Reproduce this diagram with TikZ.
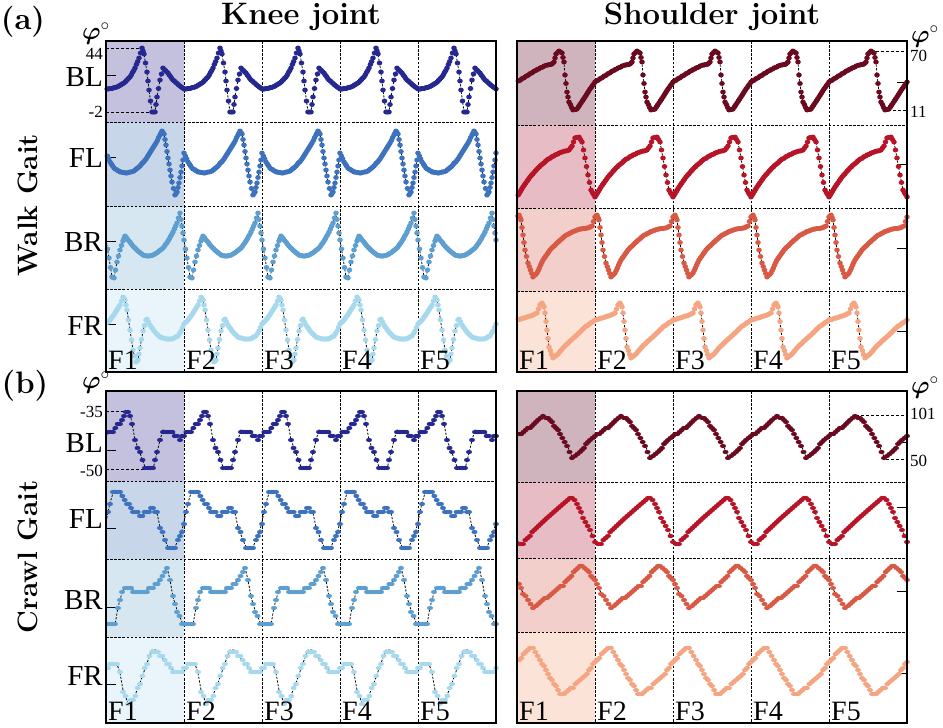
\documentclass[tikz,border=0pt]{standalone}
\usepackage{fontspec}
\usepackage{bm}
\newfontfamily\tms{Liberation Serif}
\definecolor{fLBL}{HTML}{C4C1DF}
\definecolor{fLFL}{HTML}{C7D6E9}
\definecolor{fLBR}{HTML}{D6E7F2}
\definecolor{fLFR}{HTML}{E9F5FB}
\definecolor{fRBL}{HTML}{D0B4BD}
\definecolor{fRFL}{HTML}{E8BCC4}
\definecolor{fRBR}{HTML}{F2CFCA}
\definecolor{fRFR}{HTML}{FCE3D8}
\definecolor{cLBL}{HTML}{25298F}
\definecolor{cLFL}{HTML}{3D72BF}
\definecolor{cLBR}{HTML}{5C9FD0}
\definecolor{cLFR}{HTML}{A6D8EE}
\definecolor{cRBL}{HTML}{6A0A20}
\definecolor{cRFL}{HTML}{B81428}
\definecolor{cRBR}{HTML}{D85A45}
\definecolor{cRFR}{HTML}{F5A582}
\tikzset{
  panelframe/.style={line width=1.4pt},
  gridline/.style={line width=0.7pt, dash pattern=on 2.5pt off 1.6pt},
  refline/.style={line width=0.8pt, dash pattern=on 3pt off 2pt},
  traceline/.style={line width=0.8pt, dash pattern=on 2.2pt off 1.5pt},
  rowlab/.style={font=\tms\fontsize{29}{29}\selectfont, anchor=east, inner sep=0pt},
  ticklab/.style={font=\tms\fontsize{17}{17}\selectfont, inner sep=0pt},
  flab/.style={font=\tms\fontsize{28}{28}\selectfont, anchor=base west, inner sep=0pt},
  boldlab/.style={font=\fontsize{31}{31}\selectfont\bfseries, inner sep=0pt},
  gaitlab/.style={font=\fontsize{28}{28}\selectfont\bfseries, inner sep=0pt, rotate=90},
  philab/.style={font=\fontsize{24}{24}\selectfont, inner sep=0pt}
}
\newcommand\dotrx{2.8pt}
\newcommand\dotry{2.5pt}
% #1 colour, #2 quantum, #3 spacing, #4 x0, #5 y0, #6 list of x/y (first period)
\newcommand\wave[6]{%
  \foreach \k in {0,...,4}{%
    \draw[traceline] ({#4+78*\k},#5) \foreach \px/\py in {#6}{ -- ({\px+78*\k},\py) };
  }
  \foreach \k in {0,...,4}{%
    \foreach \px/\py [remember=\px as \qx (initially #4), remember=\py as \qy (initially #5)] in {#6}{%
      \pgfmathtruncatemacro\nn{max(1,round((\px-\qx)/#3))}%
      \foreach \j in {1,...,\nn}{%
        \pgfmathsetmacro\xx{\qx+(\px-\qx)*\j/\nn+78*\k}%
        \pgfmathsetmacro\yy{round((\qy+(\py-\qy)*\j/\nn)/#2)*#2}%
        \fill[#1] (\xx,\yy) ellipse [x radius=\dotrx, y radius=\dotry];
      }%
    }%
  }%
}
\newcommand\gridpanel[6]{%
  \foreach \c in {1,...,4} \draw[gridline] ({#1+78*\c},#2) -- ({#1+78*\c},#6);
  \foreach \r in {#3,#4,#5} \draw[gridline] (#1,\r) -- ({#1+390},\r);
}
\begin{document}
\begin{tikzpicture}[x=1pt,y=-1pt]
\useasboundingbox (0,0) rectangle (943,728);
\fill[white] (0,0) rectangle (943,728);
% ---------- fills of column F1 ----------
\fill[fLBL] (106,41) rectangle (184,122);
\fill[fLFL] (106,122) rectangle (184,206);
\fill[fLBR] (106,206) rectangle (184,289);
\fill[fLFR] (106,289) rectangle (184,372);
\fill[fRBL] (517,41) rectangle (595,125);
\fill[fRFL] (517,125) rectangle (595,208);
\fill[fRBR] (517,208) rectangle (595,291);
\fill[fRFR] (517,291) rectangle (595,372);
\fill[fLBL] (106,391) rectangle (184,481);
\fill[fLFL] (106,481) rectangle (184,559);
\fill[fLBR] (106,559) rectangle (184,637);
\fill[fLFR] (106,637) rectangle (184,723);
\fill[fRBL] (517,391) rectangle (595,482);
\fill[fRFL] (517,482) rectangle (595,558);
\fill[fRBR] (517,558) rectangle (595,632);
\fill[fRFR] (517,632) rectangle (595,723);
% ---------- grids ----------
\gridpanel{106}{41}{122}{206}{289}{372}
\gridpanel{517}{41}{125}{208}{291}{372}
\gridpanel{106}{391}{481}{559}{637}{723}
\gridpanel{517}{391}{482}{558}{632}{723}
% ---------- reference lines ----------
\draw[refline] (106,48) -- (142,48);
\draw[refline] (106,112) -- (152,112);
\draw[refline] (871,51) -- (907,51);
\draw[refline] (888,110) -- (907,110);
\draw[refline] (106,411) -- (128,411);
\draw[refline] (106,469) -- (150,469);
\draw[refline] (856,415) -- (907,415);
\draw[refline] (886,459) -- (907,459);
% ---------- ticks ----------
\foreach \yy in {75,157,241,324,450,528,607,684} \draw[line width=1pt] (106,\yy) -- (116,\yy);
\foreach \yy in {82,164,248,331,442,507,591,673} \draw[line width=1pt] (897,\yy) -- (907,\yy);
% ---------- knee, walk ----------
\wave{cLBL}{0.5}{1.3}{106}{89}{112/88.5, 118/86.5, 124/83, 130/77, 135/68, 139/58, 142/48, 144/54, 147/72, 149/90, 152/112, 155/112, 157/97, 160/80, 163/68, 168/73, 173/80, 180/86, 184/89}
\wave{cLFL}{0.5}{1.3}{106}{153}{110/162, 114/168, 120/172, 127/173, 134/171, 140/166, 146/159, 151/151, 156/143, 160/135, 162/131, 164/134, 166/145, 168/158, 170/170, 172/182, 175/195, 177/192, 179/183, 181/172, 183/160, 184/153}
\wave{cLBR}{0.5}{1.3}{106}{240}{109/258, 112/277, 114/278, 117/262, 120/250, 123/241, 125/236, 129/241, 133/246, 138/251, 143/255, 148/256, 153/255, 158/252, 163/248, 168/241, 173/232, 177/223, 180/213, 182/226, 184/240}
\wave{cLFR}{0.5}{1.3}{106}{324}{110/320, 115/313, 120/305, 123/297, 125/300, 127/310, 130/330, 133/350, 136/362, 138/360, 140/348, 143/331, 146/320, 147/319, 150/325, 155/332, 160/337, 166/339, 172/339, 178/336, 181/331, 184/324}
% ---------- shoulder, walk ----------
\wave{cRBL}{0.5}{1.3}{517}{82}{525/77, 533/72, 540/68, 547/65, 552/64, 554/62, 556/54, 559/51, 562/53, 564/62, 565/75, 567/92, 569/102, 573/110, 577/109, 581/103, 585/97, 590/89, 595/82}
\wave{cRFL}{0.5}{1.3}{517}{197}{523/187, 530/177, 538/168, 547/160, 555/155, 562/152, 569/150, 572/146, 575/138, 579/137, 582/142, 585/158, 588/175, 591/190, 595/197}
\wave{cRBR}{0.5}{1.3}{517}{217}{519/215, 521/220, 523/235, 525/250, 528/263, 533/277, 537/273, 543/260, 550/250, 557/243, 565/236, 572/232, 580/229, 588/228, 592/226, 595/217}
\wave{cRFR}{0.5}{1.3}{517}{320}{527/317, 533/315, 537/313, 540/305, 542/303, 544/307, 545/313, 547/330, 549/347, 553/358, 558/354, 563/348, 570/341, 577/335, 585/327, 595/320}
% ---------- knee, crawl ----------
\renewcommand\dotrx{3.0pt}\renewcommand\dotry{2.1pt}
\wave{cLBL}{4}{2.2}{106}{435}{113/430, 120/422, 124/416, 128/411, 130/414, 132/423, 135/440, 140/453, 145/467, 148/469, 153/469, 157/453, 160/440, 163/430, 170/432, 177/435, 180/438, 182/437, 184/435}
\wave{cLFL}{4}{2.2}{106}{522}{108/512, 110/503, 113/493, 120/493, 127/503, 133/510, 140/515, 147/513, 153/508, 157/513, 160/527, 165/540, 168/547, 175/547, 178/540, 182/530, 184/522}
\wave{cLBR}{4}{2.2}{106}{625}{115/625, 118/607, 122/593, 125/587, 133/590, 140/592, 147/590, 153/587, 160/580, 165/570, 167/567, 170/580, 173/597, 177/610, 182/622, 184/625}
\wave{cLFR}{4}{2.2}{106}{668}{110/665, 115/663, 117/664, 120/673, 123/690, 128/703, 133/700, 140/683, 147/663, 152/650, 156/650, 160/655, 167/663, 173/670, 180/673, 184/668}
% ---------- shoulder, crawl ----------
\wave{cRBL}{2}{2.2}{517}{436}{530/427, 538/420, 543/416, 546/417, 550/420, 560/433, 567/445, 572/457, 575/456, 580/452, 590/440, 595/436}
\wave{cRFL}{2}{2.2}{517}{541}{520/543, 523/543, 530/535, 547/517, 563/503, 570/497, 572/498, 577/503, 583/517, 590/530, 595/541}
\wave{cRBR}{2}{2.2}{517}{580}{523/593, 528/600, 533/607, 536/605, 547/597, 563/585, 580/565, 582/565, 587/570, 595/580}
\wave{cRFR}{2}{2.2}{517}{662}{530/647, 533/648, 540/660, 550/677, 560/693, 564/693, 573/687, 587/673, 595/662}
% ---------- frames ----------
\draw[panelframe] (106,41) rectangle (496,372);
\draw[panelframe] (517,41) rectangle (907,372);
\draw[panelframe] (106,391) rectangle (496,723);
\draw[panelframe] (517,391) rectangle (907,723);
% ---------- labels ----------
\node[boldlab] (ta) at (23,22) {(a)};
\node[boldlab] (tb) at (25,386) {(b)};
\node[boldlab] (kj) at (301,17) {Knee joint};
\node[boldlab] (sj) at (712,17) {Shoulder joint};
\node[gaitlab] (wg) at (28,205) {Walk Gait};
\node[gaitlab] (cg) at (28,557) {Crawl Gait};
\node[rowlab] (r1) at (103,77) {BL};
\node[rowlab] (r2) at (103,158) {FL};
\node[rowlab] (r3) at (103,242) {BR};
\node[rowlab] (r4) at (103,326) {FR};
\node[rowlab] (r5) at (103,443) {BL};
\node[rowlab] (r6) at (103,519) {FL};
\node[rowlab] (r7) at (103,600) {BR};
\node[rowlab] (r8) at (103,676) {FR};
\node[ticklab, anchor=east] (n44) at (103,54) {44};
\node[ticklab, anchor=east] (nm2) at (103,112) {-2};
\node[ticklab, anchor=east] (nm35) at (103,412) {-35};
\node[ticklab, anchor=east] (nm50) at (103,471) {-50};
\node[ticklab, anchor=west] (n70) at (910,56) {70};
\node[ticklab, anchor=west] (n11) at (910,112) {11};
\node[ticklab, anchor=west] (n101) at (910,414) {101};
\node[ticklab, anchor=west] (n50) at (910,461) {50};
\node[philab] (p1) at (96,34) {$\bm{\varphi}^{\circ}$};
\node[philab] (p2) at (96,383) {$\bm{\varphi}^{\circ}$};
\node[philab] (p3) at (925,37) {$\bm{\varphi}^{\circ}$};
\node[philab] (p4) at (925,388) {$\bm{\varphi}^{\circ}$};
\foreach \i in {1,...,5}{
  \node[flab] (fa\i) at ({106+78*(\i-1)+2},369) {F\i};
  \node[flab] (fb\i) at ({517+78*(\i-1)+2},369) {F\i};
  \node[flab] (fc\i) at ({106+78*(\i-1)+2},720) {F\i};
  \node[flab] (fd\i) at ({517+78*(\i-1)+2},720) {F\i};
}
\end{tikzpicture}
\end{document}
